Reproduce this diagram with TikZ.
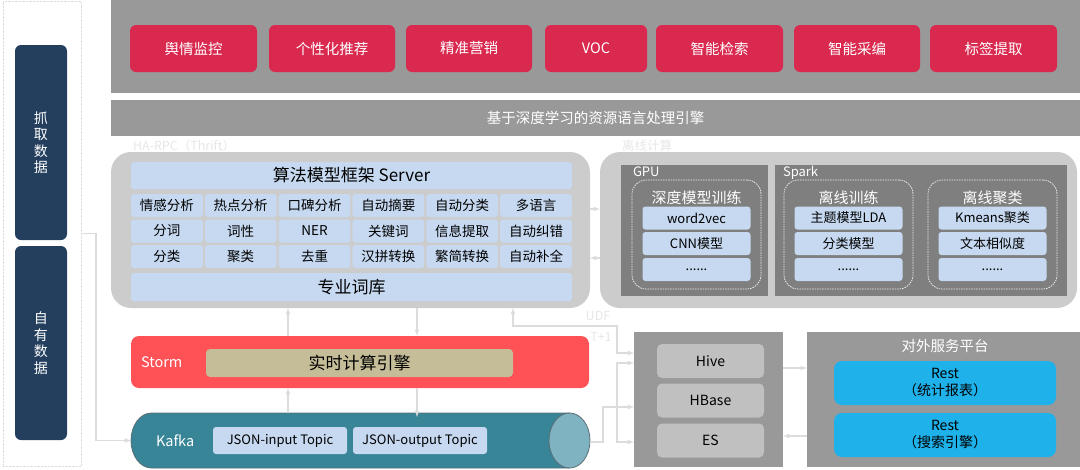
\documentclass[tikz,border=0pt]{standalone}
\usepackage{fontspec}
\setmainfont{Noto Sans CJK SC}
\usetikzlibrary{positioning,calc}

\definecolor{bandgray}{HTML}{999999}
\definecolor{appred}{HTML}{D9294F}
\definecolor{navy}{HTML}{243F5D}
\definecolor{panelgray}{HTML}{CCCCCC}
\definecolor{cellblue}{HTML}{C6D9F0}
\definecolor{boxdark}{HTML}{7F7F7F}
\definecolor{stormred}{HTML}{FF5257}
\definecolor{tanbox}{HTML}{C4BD97}
\definecolor{kafkateal}{HTML}{388597}
\definecolor{kafkaend}{HTML}{80B3C2}
\definecolor{kafkaline}{HTML}{5A6E75}
\definecolor{itemgray}{HTML}{C0C0C0}
\definecolor{restblue}{HTML}{1FB1EA}
\definecolor{linegray}{HTML}{DCDCDC}
\definecolor{faint}{HTML}{E6E6E6}

\newcommand{\fs}[1]{\fontsize{#1}{#1}\selectfont}

\begin{document}
\begin{tikzpicture}[x=1pt, y=-1pt,
    every node/.style={inner sep=0, outer sep=0},
    srcbox/.style={fill=navy, rounded corners=6pt, minimum width=52pt, minimum height=195pt, text=white, align=center, font=\fontsize{14}{16.5}\selectfont}, % 数据来源
    band/.style={fill=bandgray, minimum width=969pt}, % 灰色横条
    appbox/.style={fill=appred, rounded corners=6pt, minimum height=47pt, text=white, font=\fs{14.5}}, % 应用
    panel/.style={fill=panelgray, rounded corners=20pt}, % 大灰框
    cell/.style={fill=cellblue, rounded corners=3pt, minimum height=23pt, font=\fs{13.5}}, % 算法单元
    darkbox/.style={fill=boxdark, minimum height=131pt}, % GPU / Spark
    group/.style={draw=white!85!gray, dash pattern=on 1.5pt off 1pt, line width=0.8pt, rounded corners=14pt, minimum width=129pt, minimum height=109pt},
    grouptitle/.style={text=white, font=\fs{15}},
    item/.style={fill=cellblue, rounded corners=3pt, minimum width=108pt, minimum height=23pt, font=\fs{13}},
    dbitem/.style={fill=itemgray, rounded corners=5pt, minimum width=107pt, minimum height=34pt, font=\fs{14}},
    rest/.style={fill=restblue, rounded corners=8pt, minimum width=222pt, minimum height=44pt, align=center, font=\fontsize{14}{17}\selectfont},
    tag/.style={text=white, font=\fs{13}},
    faintlabel/.style={text=faint, font=\fs{12.5}},
    arrow/.style={-latex, draw=linegray, line width=1.2pt}, % 连线
    biarrow/.style={arrow, latex-latex}
    ]

    \useasboundingbox (0,0) rectangle (1080,469);

    % 数据来源
    \node[draw=linegray, densely dotted, minimum width=78pt, minimum height=465pt] (src) at (42,233.5) {};
    \node[srcbox] (grab) at (41,142.5) {抓\\取\\数\\据};
    \node[srcbox, minimum height=194pt] (own) at (41,343) {自\\有\\数\\据};

    % 应用层
    \node[band, minimum height=93pt] (apps) at (595.5,46.5) {};
    \foreach \cx/\w/\t [count=\i] in {193.5/127/舆情监控, 332/126/个性化推荐, 469/126/精准营销, 596/102/VOC, 719.5/127/智能检索, 857/126/智能采编, 993.5/127/标签提取}
        \node[appbox, minimum width=\w] (app\i) at (\cx,48.5) {\t};

    % 引擎
    \node[band, minimum height=36pt, text=white, font=\fs{14.5}] (engine) at (595.5,118) {基于深度学习的资源语言处理引擎};

    \node[faintlabel, anchor=west] (rpc) at (133,146) {HA-RPC（Thrift）};
    \node[faintlabel, anchor=west] (offlbl) at (622,146) {离线计算};

    % 算法模型框架
    \node[panel, minimum width=479pt, minimum height=156pt] (algo) at (350.5,230) {};
    \node[cell, minimum width=441pt, minimum height=27pt, font=\fs{17}] (server) at (351.5,175.5) {算法模型框架 Server};
    \foreach \row [count=\j] in {{情感分析,热点分析,口碑分析,自动摘要,自动分类,多语言},
                                 {分词,词性,NER,关键词,信息提取,自动纠错},
                                 {分类,聚类,去重,汉拼转换,繁简转换,自动补全}}
        \foreach \t [count=\i] in \row
            \node[cell, minimum width=71.8pt] (c\j-\i) at ({166.9+73.83*(\i-1)}, {205.5+25.5*(\j-1)}) {\t};
    \node[cell, minimum width=441pt, minimum height=28pt, font=\fs{17}] (lex) at (351.5,287) {专业词库};

    % 离线计算
    \node[panel, minimum width=477pt, minimum height=156pt] (offline) at (838.5,230) {};
    \node[darkbox, minimum width=147pt] (gpu) at (694.5,230.5) {};
    \node[darkbox, minimum width=292pt] (spark) at (921,230.5) {};
    \node[tag, anchor=west] (gpulbl) at (633,172) {GPU};
    \node[tag, anchor=west] (sparklbl) at (783,173) {Spark};
    \foreach \cx/\name/\t/\a/\b in {696.5/deep/深度模型训练/word2vec/CNN模型,
                                    848.5/train/离线训练/主题模型LDA/分类模型,
                                    992.5/clus/离线聚类/Kmeans聚类/文本相似度} {
        \node[group] (\name) at (\cx,234.5) {};
        \node[grouptitle] (\name-t) at (\cx,198) {\t};
        \node[item] (\name-1) at (\cx,218) {\a};
        \node[item] (\name-2) at (\cx,243.5) {\b};
        \node[item] (\name-3) at (\cx,269.5) {......};
    }

    \draw[arrow] ([yshift=21pt]algo.east) -- ([yshift=21pt]offline.west);
    \draw[arrow] ([yshift=-28pt]offline.west) -- ([yshift=-28pt]algo.east);

    % 实时计算
    \node[fill=stormred, rounded corners=8pt, minimum width=458pt, minimum height=52pt] (storm) at (360,362) {};
    \node[fill=tanbox, rounded corners=4pt, minimum width=307pt, minimum height=28pt, font=\fs{17}] (rt) at (359.5,363) {实时计算引擎};
    \node[tag, anchor=west, font=\fs{14.5}] (stormlbl) at (141,362) {Storm};

    % Kafka
    \node[minimum width=459pt, minimum height=55pt] (kafka) at (360.5,440.5) {};
    \filldraw[fill=kafkateal, draw=kafkaline, line width=0.8pt]
        ($(kafka.north west)+(20.5,0)$) -- ($(kafka.north east)+(-20.5,0)$)
        -- ($(kafka.south east)+(-20.5,0)$) -- ($(kafka.south west)+(20.5,0)$)
        arc[start angle=90, end angle=270, x radius=20.5, y radius=27.5] -- cycle;
    \filldraw[fill=kafkaend, draw=kafkaline, line width=0.8pt]
        ($(kafka.east)+(-20.5,0)$) ellipse [x radius=20.5, y radius=27.5];
    \node[tag, anchor=west, font=\fs{14.5}] (kafkalbl) at (156,441) {Kafka};
    \node[cell, minimum width=134pt, minimum height=27pt, font=\fs{13}] (jin) at (280,440.5) {JSON-input Topic};
    \node[cell, minimum width=134pt, minimum height=27pt, font=\fs{13}] (jout) at (420,440.5) {JSON-output Topic};

    % 存储
    \node[fill=bandgray, minimum width=149pt, minimum height=135pt] (store) at (708.5,399.5) {};
    \foreach \t/\y/\n in {Hive/361/hive, HBase/400.5/hbase, ES/440.5/es}
        \node[dbitem] (\n) at (710.5,\y) {\t};

    % 对外服务平台
    \node[fill=bandgray, minimum width=273pt, minimum height=135pt] (svc) at (943.5,399.5) {};
    \node[tag, font=\fs{14.5}] (svct) at (945,346) {对外服务平台};
    \node[rest] (rest1) at (945,383) {Rest\\（统计报表）};
    \node[rest] (rest2) at (945,435) {Rest\\（搜索引擎）};

    % 连线
    \coordinate (upx) at (288,0);
    \coordinate (downx) at (417,0);
    \coordinate (udfx) at (513,0);
    \coordinate (udf) at (617,326);

    \draw[arrow] (storm.north -| upx) -- (algo.south -| upx);
    \draw[arrow] (algo.south -| downx) -- (storm.north -| downx);
    \draw[arrow] (kafka.north -| upx) -- (storm.south -| upx);
    \draw[arrow] (storm.south -| downx) -- ([yshift=-4pt]kafka.north -| downx);

    \draw[biarrow] (algo.south -| udfx) |- (udf) |- ([yshift=8pt]hive.west -| store.west);
    \node[faintlabel] (udflbl) at (598,316) {UDF};
    \node[faintlabel] (t1lbl) at (601,337) {T+1};

    \draw[arrow] ([yshift=-1.5pt]kafka.east) -- ++(13,0) |- ([yshift=-6.5pt]hbase.west -| store.west);
    \draw[biarrow] ([yshift=-2pt]hive.west -| store.west) -- ++(-17,0) |- ([yshift=-1.5pt]es.west -| store.west);

    \draw[arrow] ([yshift=31.5pt]store.east) -- ([yshift=31.5pt]svc.west);
    \draw[arrow] ([yshift=-36.5pt]svc.west) -- ([yshift=-36.5pt]store.east);

    \draw[arrow] (src.east) -- ++(15,0) |- (kafka.west);

\end{tikzpicture}
\end{document}
